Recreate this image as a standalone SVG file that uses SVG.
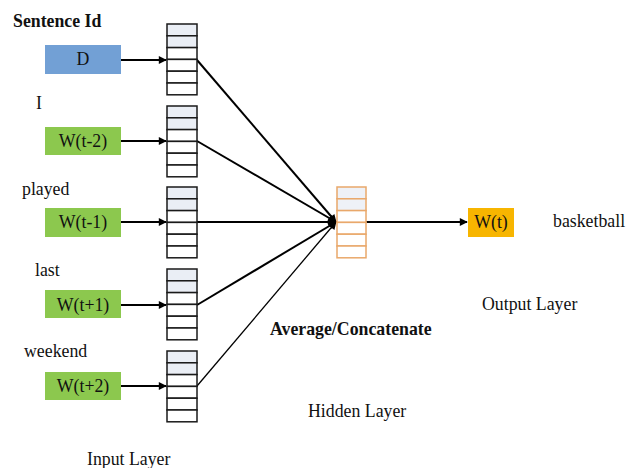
<svg xmlns="http://www.w3.org/2000/svg" width="639" height="468" viewBox="0 0 639 468">
  <style>
    text { font-family: "Liberation Serif", "Times New Roman", serif; font-size: 17.8px; fill: #111; }
    .bold { font-weight: bold; }
    .mid { text-anchor: middle; }
    .cell { fill: #ffffff; stroke: #1a1a1a; stroke-width: 1.5; }
    .cell.tint { fill: #eaeef5; }
    .hcell { fill: #ffffff; stroke: #e9a86b; stroke-width: 1.5; }
    .hcell.tint { fill: #eef1f7; }
    .edge { stroke: #000; stroke-width: 2; fill: none; }
    .thin { stroke-width: 1.3; }
  </style>
  <defs>
    <marker id="tip" viewBox="0 0 10 10" refX="9" refY="5" markerWidth="10" markerHeight="8" orient="auto" markerUnits="userSpaceOnUse">
      <path d="M0,0 L10,5 L0,10 z" fill="#000"/>
    </marker>
    <!-- one word-vector column: six stacked cells -->
    <g id="vec">
      <rect class="cell tint" x="0" y="0" width="30" height="11.8"/>
      <rect class="cell tint" x="0" y="11.8" width="30" height="11.8"/>
      <rect class="cell" x="0" y="23.6" width="30" height="11.8"/>
      <rect class="cell" x="0" y="35.4" width="30" height="11.8"/>
      <rect class="cell" x="0" y="47.2" width="30" height="11.8"/>
      <rect class="cell" x="0" y="59" width="30" height="11.8"/>
    </g>
  </defs>

  <rect width="639" height="468" fill="#ffffff"/>

  <!-- connectors -->
  <g id="connectors">
    <line class="edge" x1="121" y1="60" x2="166" y2="60" marker-end="url(#tip)"/>
    <line class="edge" x1="121" y1="141" x2="166" y2="141" marker-end="url(#tip)"/>
    <line class="edge" x1="121" y1="222" x2="166" y2="222" marker-end="url(#tip)"/>
    <line class="edge" x1="121" y1="305" x2="166" y2="305" marker-end="url(#tip)"/>
    <line class="edge" x1="121" y1="386" x2="166" y2="386" marker-end="url(#tip)"/>

    <line class="edge" x1="197" y1="60" x2="336" y2="222" marker-end="url(#tip)"/>
    <line class="edge" x1="197" y1="141" x2="336" y2="222" marker-end="url(#tip)"/>
    <line class="edge" x1="197" y1="222" x2="337" y2="222" marker-end="url(#tip)"/>
    <line class="edge" x1="197" y1="305" x2="336" y2="222" marker-end="url(#tip)"/>
    <line class="edge thin" x1="197" y1="386" x2="336" y2="222" marker-end="url(#tip)"/>
    <ellipse cx="331" cy="222" rx="3.5" ry="5" fill="#000"/>

    <line class="edge" x1="366" y1="222" x2="467" y2="222" stroke-width="1.7" marker-end="url(#tip)"/>
  </g>

  <!-- input words -->
  <g id="node-d">
    <text class="bold" x="13" y="27">Sentence Id</text>
    <rect x="45" y="45" width="76" height="29" fill="#72a0d5"/>
    <text class="mid" x="83" y="65">D</text>
  </g>
  <g id="node-wt-2">
    <text x="36" y="109">I</text>
    <rect x="45" y="127" width="76" height="28" fill="#8cc84e"/>
    <text class="mid" x="83" y="147">W(t-2)</text>
  </g>
  <g id="node-wt-1">
    <text x="22" y="195">played</text>
    <rect x="45" y="208" width="76" height="29" fill="#8cc84e"/>
    <text class="mid" x="83" y="228">W(t-1)</text>
  </g>
  <g id="node-wt+1">
    <text x="35" y="276">last</text>
    <rect x="45" y="290" width="76" height="28" fill="#8cc84e"/>
    <text class="mid" x="83" y="311">W(t+1)</text>
  </g>
  <g id="node-wt+2">
    <text x="24" y="357">weekend</text>
    <rect x="45" y="372" width="76" height="28" fill="#8cc84e"/>
    <text class="mid" x="83" y="392">W(t+2)</text>
  </g>

  <!-- input vectors -->
  <g id="vec-d"><use href="#vec" x="167" y="24"/></g>
  <g id="vec-wt-2"><use href="#vec" x="167" y="106"/></g>
  <g id="vec-wt-1"><use href="#vec" x="167" y="187"/></g>
  <g id="vec-wt+1"><use href="#vec" x="167" y="269"/></g>
  <g id="vec-wt+2"><use href="#vec" x="167" y="351"/></g>

  <!-- hidden layer vector -->
  <g id="hidden">
    <rect class="hcell tint" x="337" y="187" width="29" height="11.8"/>
    <rect class="hcell tint" x="337" y="198.8" width="29" height="11.8"/>
    <rect class="hcell" x="337" y="210.6" width="29" height="11.8"/>
    <rect class="hcell" x="337" y="222.4" width="29" height="11.8"/>
    <rect class="hcell" x="337" y="234.2" width="29" height="11.8"/>
    <rect class="hcell" x="337" y="246" width="29" height="11.8"/>
  </g>

  <!-- output -->
  <g id="node-wt">
    <rect x="468" y="208" width="46" height="29" fill="#f7b500"/>
    <text class="mid" x="491" y="228">W(t)</text>
    <text x="553" y="227">basketball</text>
  </g>

  <!-- layer captions -->
  <g id="captions">
    <text x="87" y="465">Input Layer</text>
    <text class="bold" x="270" y="335">Average/Concatenate</text>
    <text x="308" y="417">Hidden Layer</text>
    <text x="482" y="310">Output Layer</text>
  </g>
</svg>
